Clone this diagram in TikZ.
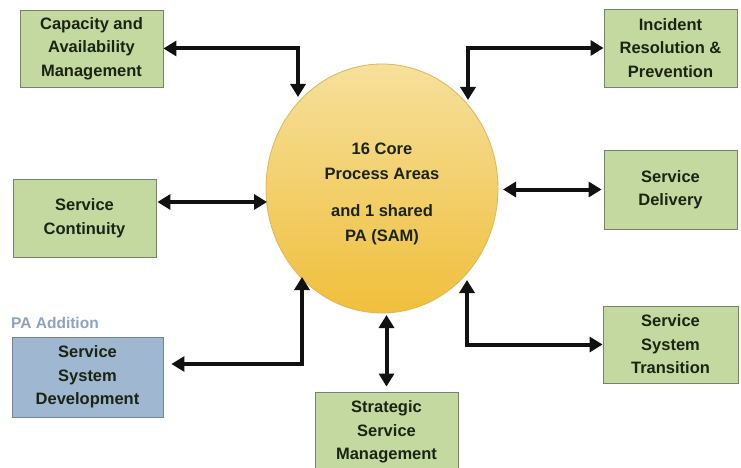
\documentclass[tikz,border=0pt]{standalone}
\usepackage{fontspec}
\setmainfont{Liberation Sans}
\usetikzlibrary{shapes.geometric,arrows.meta,shadows,calc}
\definecolor{boxgreen}{HTML}{C4D9A0}
\definecolor{boxblue}{HTML}{9FB7D1}
\definecolor{boxedge}{HTML}{76856A}
\definecolor{blueedge}{HTML}{758596}
\definecolor{labeltext}{HTML}{1A2412}
\definecolor{coretop}{HTML}{F6E09C}
\definecolor{corebottom}{HTML}{F0BF3C}
\definecolor{coreedge}{HTML}{DDB655}
\definecolor{notetext}{HTML}{8DA2BE}
\definecolor{arrowink}{HTML}{111111}
\begin{document}
\begin{tikzpicture}[x=1pt,y=-1pt,
  pa/.style={draw=boxedge, fill=boxgreen, line width=0.9pt, text=labeltext,
    font=\bfseries\fontsize{16.5}{23.5}\selectfont, align=center, inner sep=0pt,
    drop shadow={shadow xshift=1.2pt, shadow yshift=-1.2pt, opacity=0.3, fill=black!70}},
  addpa/.style={pa, draw=blueedge, fill=boxblue},
  link/.style={line width=4pt, draw=arrowink,
    {Triangle[length=13pt,width=15pt]}-{Triangle[length=13pt,width=15pt]}}]

\useasboundingbox (0,0) rectangle (741,468);
\fill[white] (0,0) rectangle (741,468);

% central process-area ellipse
\node[ellipse, minimum width=232pt, minimum height=249pt, inner sep=0pt,
  draw=coreedge, line width=0.8pt, top color=coretop, bottom color=corebottom]
  (core) at (382,188.5) {};
\node[text=labeltext, font=\bfseries\fontsize{16.5}{25}\selectfont, align=center]
  (coretext) at (382,193.5) {16 Core\\Process Areas\\[12pt]and 1 shared\\PA (SAM)};

% surrounding process areas
\node[pa, minimum width=143pt, minimum height=77pt] (cap) at (91.5,48.5)
  {Capacity and\\Availability\\Management};
\node[pa, minimum width=133pt, minimum height=78pt] (inc) at (670.5,48)
  {Incident\\Resolution \&\\Prevention};
\node[pa, minimum width=133pt, minimum height=79pt] (del) at (670.5,189.5)
  {Service\\Delivery};
\node[pa, minimum width=143pt, minimum height=78pt] (con) at (84.5,218)
  {Service\\Continuity};
\node[addpa, minimum width=151pt, minimum height=80pt] (ssd) at (87.5,377)
  {Service\\System\\Development};
\node[pa, minimum width=143pt, minimum height=80pt] (ssm) at (386.5,432)
  {Strategic\\Service\\Management};
\node[pa, minimum width=135pt, minimum height=77pt] (sst) at (670.5,344.5)
  {Service\\System\\Transition};

\node[anchor=west, text=notetext, font=\bfseries\fontsize{15.5}{18}\selectfont, inner sep=0pt]
  (note) at (11,323) {PA Addition};

% connection points on the ellipse
\coordinate (capIn) at (298,97);
\coordinate (incIn) at (468,100);
\coordinate (delIn) at (503,189.5);
\coordinate (conIn) at (267,202);
\coordinate (ssdIn) at (302,277);
\coordinate (ssmIn) at (386.5,315);
\coordinate (sstIn) at (467,280);

% two-way links
\draw[link] (cap.east) -| (capIn);
\draw[link] (inc.west) -| (incIn);
\draw[link] ($(del.west)+(-2,0)$) -- (delIn);
\draw[link] ($(con.east)+(1,-16)$) -- (conIn);
\draw[link] ($(ssd.east)+(8,-13)$) -| (ssdIn);
\draw[link] ($(ssm.north)+(0,-5)$) -- (ssmIn);
\draw[link] (sst.west) -| (sstIn);
\end{tikzpicture}
\end{document}
